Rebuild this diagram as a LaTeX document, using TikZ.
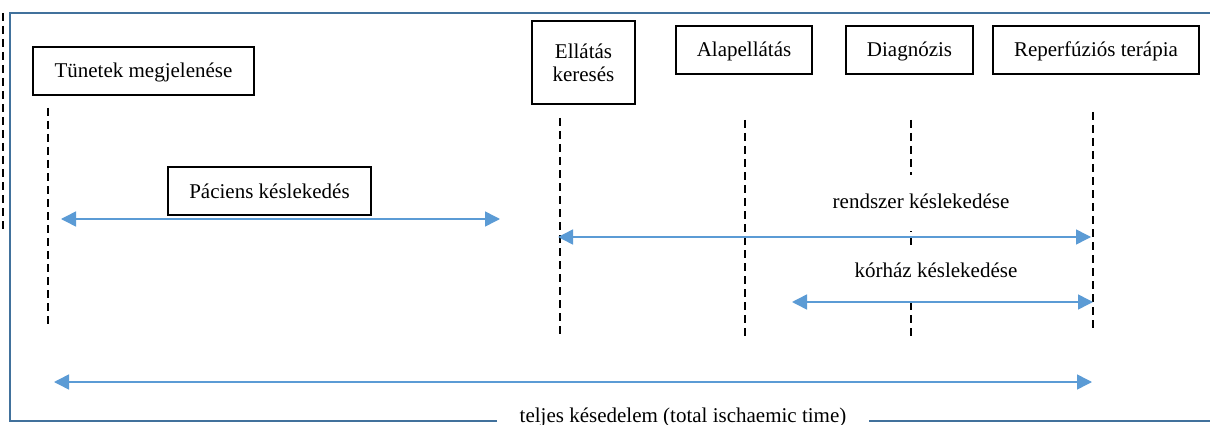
\documentclass[tikz,border=0pt]{standalone}
\usepackage{fontspec}
\setmainfont{Liberation Serif}
\usetikzlibrary{arrows.meta}
\definecolor{frameblue}{RGB}{65,113,156}
\definecolor{arrblue}{RGB}{91,155,213}
\begin{document}
\begin{tikzpicture}[x=1pt,y=-1pt,
  every node/.style={font=\fontsize{21}{23}\selectfont},
  box/.style={draw=black,line width=1.3pt,inner sep=0pt,align=center,text height=17pt,text depth=3pt},
  vline/.style={draw=black,line width=2pt,dash pattern=on 8pt off 5pt},
  span/.style={draw=arrblue,line width=1.5pt,{Triangle[length=15pt,width=15pt]}-{Triangle[length=15pt,width=15pt]}},
  lbl/.style={fill=white,inner sep=0pt,text height=15pt,text depth=5pt}]
\useasboundingbox (0,0) rectangle (1210,425);
\fill[white] (0,0) rectangle (1210,425);

% frame
\coordinate (f1) at (497,421);
\coordinate (f2) at (10,421);
\coordinate (f3) at (10,13);
\coordinate (f4) at (1212,13);
\coordinate (f5) at (869,421);
\coordinate (f6) at (1212,421);
\draw[frameblue,line width=2.8pt] (f1) -- (f2) -- (f3) -- (f4);
\draw[frameblue,line width=2.8pt] (f5) -- (f6);

% left dashed line
\coordinate (l1) at (3,13);
\coordinate (l2) at (3,232);
\draw[vline] (l1) -- (l2);

% boxes
\node[box,minimum width=221pt,minimum height=48pt] (tun) at (143.5,71) {Tünetek megjelenése};
\node[box,minimum width=103pt,minimum height=83pt,text height=,text depth=] (ell) at (583.5,62.5) {Ellátás\\keresés};
\node[box,minimum width=136pt,minimum height=48pt] (alap) at (744,50) {Alapellátás};
\node[box,minimum width=127pt,minimum height=48pt] (diag) at (909.5,50) {Diagnózis};
\node[box,minimum width=206pt,minimum height=48pt] (rep) at (1096,50) {Reperfúziós terápia};
\node[box,minimum width=203pt,minimum height=48pt] (pac) at (269.5,191) {Páciens késlekedés};

% dashed time lines
\coordinate (d1a) at (48,108);   \coordinate (d1b) at (48,326);
\coordinate (d2a) at (560,118);  \coordinate (d2b) at (560,335);
\coordinate (d3a) at (745,120);  \coordinate (d3b) at (745,338);
\coordinate (d4a) at (911,120);  \coordinate (d4b) at (911,337);
\coordinate (d5a) at (1093,112); \coordinate (d5b) at (1093,329);
\draw[vline] (d1a) -- (d1b);
\draw[vline] (d2a) -- (d2b);
\draw[vline] (d3a) -- (d3b);
\draw[vline] (d4a) -- (d4b);
\draw[vline] (d5a) -- (d5b);

% arrows
\coordinate (p1) at (61,219);  \coordinate (p2) at (500,219);
\coordinate (r1) at (558,237); \coordinate (r2) at (1091,237);
\coordinate (k1) at (792,302); \coordinate (k2) at (1093,302);
\coordinate (t1) at (54,382);  \coordinate (t2) at (1092,382);
\draw[span] (p1) -- (p2);
\draw[span] (r1) -- (r2);
\draw[span] (k1) -- (k2);
\draw[span] (t1) -- (t2);

% labels
\node[lbl,minimum width=230pt,minimum height=56pt] (rend) at (921,203) {rendszer késlekedése};
\node[lbl,minimum width=230pt,minimum height=56pt] (korh) at (936,272.5) {kórház késlekedése};
\node[anchor=base] (tel) at (683,422.5) {teljes késedelem (total ischaemic time)};
\end{tikzpicture}
\end{document}
